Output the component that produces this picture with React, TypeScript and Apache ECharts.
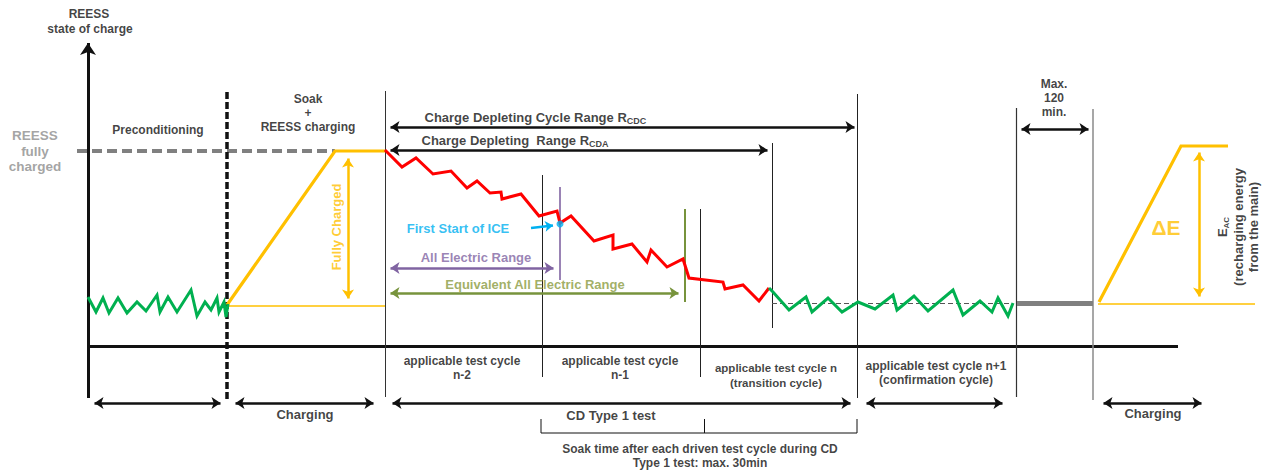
import React, { useEffect, useRef } from "react";
import * as echarts from "echarts";

type P = [number, number];

// ---------------- DATA (diagram coordinates: x = time position, y = SOC position, 0 at top) -------------
const preconditioningSoc: P[] = [
  [88, 297], [96, 312], [103, 298], [109, 313], [118, 298], [127, 313], [137, 302], [146, 311],
  [157, 295], [160, 312], [168, 297], [177, 312], [191, 290], [197, 316], [205, 302], [211, 310],
  [217, 298], [219, 312], [224, 302], [226, 317], [228, 304],
];
const chargeDepletingSoc: P[] = [
  [385, 150], [402, 167], [416, 158], [433, 174], [451, 171], [467, 188], [477, 181], [490, 193],
  [501, 192], [502, 199], [521, 194], [539, 216], [557, 211], [560, 223], [571, 216], [594, 241],
  [613, 235], [613, 249], [632, 244], [647, 262], [651, 250], [667, 267], [683, 259], [689, 278],
  [723, 282], [725, 289], [743, 285], [759, 301], [769, 288],
];
const chargeSustainingSoc: P[] = [
  [769, 288], [773, 292], [789, 310], [806, 297], [812, 312], [828, 298], [842, 312], [858, 302],
  [875, 309], [893, 295], [897, 310], [914, 296], [928, 311], [953, 290], [963, 315], [980, 301],
  [992, 312], [998, 298], [1008, 316], [1013, 303],
];
const soakChargingSoc: P[] = [[227, 305], [335, 151], [385, 151]];
const rechargeSoc: P[] = [[1099, 302], [1181, 146], [1228, 146]];
const firstIceStart: P = [560, 224];

const cycleLabels = [
  "applicable test cycle\nn-2",
  "applicable test cycle\nn-1",
  "applicable test cycle n\n(transition cycle)",
  "applicable test cycle n+1\n(confirmation cycle)",
];
const phaseLabels = ["Charging", "CD Type 1 test", "Charging"];

// ---------------- STYLE ----------------
const FONT = "Arial, 'Liberation Sans', Helvetica, sans-serif";
const BLACK = "#111111";
const YELLOW = "#FFC000";
const RED = "#FF0000";
const GREEN = "#00B050";
const GRAY = "#808080";
const PURPLE = "#8064A2";
const OLIVE = "#77933C";
const OLIVE_TEXT = "#8A9A3E";
const BLUE = "#00B0F0";

function seg(coords: P[], color: string, width: number, opts: any = {}) {
  return {
    type: "lines",
    coordinateSystem: "cartesian2d",
    silent: true,
    z: opts.z ?? 2,
    polyline: coords.length > 2,
    symbol: opts.symbol ?? ["none", "none"],
    symbolSize: opts.symbolSize ?? 9,
    lineStyle: { color, width, opacity: 1, type: opts.dash ?? "solid", curveness: 0 },
    data: [{ coords }],
  };
}

function arrow(a: P, b: P, color: string, width: number, both = true, size = 9) {
  const dx = b[0] - a[0];
  const dy = b[1] - a[1];
  const len = Math.hypot(dx, dy);
  const ux = dx / len;
  const uy = dy / len;
  const o = size / 2;
  const a2: P = both ? [a[0] + ux * o, a[1] + uy * o] : a;
  const b2: P = [b[0] - ux * o, b[1] - uy * o];
  return seg([a2, b2], color, width, { symbol: [both ? "arrow" : "none", "arrow"], symbolSize: size, z: 3 });
}

function lineSeries(data: P[], color: string, width: number) {
  return {
    type: "line",
    data,
    showSymbol: false,
    symbol: "none",
    silent: true,
    z: 4,
    lineStyle: { color, width, join: "miter" },
  };
}

function lbl(x: number, y: number, text: string, style: any = {}) {
  return {
    value: [x, y],
    label: {
      show: true,
      formatter: text,
      position: style.position ?? "inside",
      distance: 0,
      fontFamily: FONT,
      fontWeight: "bold",
      fontSize: style.fontSize ?? 12,
      color: style.color ?? BLACK,
      lineHeight: style.lineHeight ?? 14,
      align: style.align ?? "center",
      verticalAlign: "middle",
      rotate: style.rotate ?? 0,
      rich: style.rich,
    },
  };
}

const subRich = (size: number) => ({
  m: { fontFamily: FONT, fontWeight: "bold", fontSize: size, color: BLACK, lineHeight: 17, verticalAlign: "middle" },
  s: { fontFamily: FONT, fontWeight: "bold", fontSize: 9, color: BLACK, lineHeight: 17, verticalAlign: "bottom" },
});

export default function App() {
  const ref = useRef<HTMLDivElement>(null);

  useEffect(() => {
    if (!ref.current) return;
    const chart = echarts.init(ref.current, undefined, { renderer: "svg" });

    const series: any[] = [
      // axes
      seg([[88, 398], [88, 43]], BLACK, 3, { symbol: ["none", "arrow"], symbolSize: 12 }),
      seg([[87, 346], [1178, 346]], BLACK, 3),
      // full charge reference
      seg([[77, 151], [335, 151]], GRAY, 4, { dash: [10, 5] }),
      // preconditioning end
      seg([[227, 92], [227, 400]], BLACK, 3.5, { dash: [7, 3] }),
      // phase boundaries
      seg([[385, 91], [385, 397]], "#333333", 1),
      seg([[542, 175], [542, 377]], "#222222", 1),
      seg([[700, 209], [700, 377]], "#222222", 1),
      seg([[772, 143], [772, 328]], "#222222", 1),
      seg([[857, 94], [857, 398]], "#222222", 1),
      seg([[1016, 108], [1016, 397]], "#333333", 1.2),
      seg([[1093, 109], [1093, 400]], "#8a8a8a", 1.5),
      seg([[560, 187], [560, 280]], PURPLE, 1.6),
      seg([[685, 209], [685, 302]], OLIVE, 2),
      // thin yellow baselines
      seg([[227, 305.5], [385, 305.5]], YELLOW, 1.5),
      seg([[1098, 303.5], [1255, 303.5]], YELLOW, 1.5),
      // charge sustaining reference & soak
      seg([[772, 303], [1013, 303]], "#555555", 1, { dash: [5, 3] }),
      seg([[1017, 303], [1093, 303]], GRAY, 5),
      // range arrows
      arrow([386, 127], [859, 127], BLACK, 2.5),
      arrow([386, 150], [772, 150], BLACK, 2.5),
      arrow([1017, 129], [1093, 129], BLACK, 2.5),
      arrow([386, 268], [558, 268], PURPLE, 2.5),
      arrow([386, 293], [683, 293], OLIVE, 2.5),
      arrow([348, 154], [348, 303], YELLOW, 2.5),
      arrow([1199, 148], [1199, 301], YELLOW, 2.5),
      arrow([531, 228], [557, 225], BLUE, 2.5, false, 8),
      // bottom phase arrows
      arrow([90, 403], [225, 403], BLACK, 2.5),
      arrow([231, 403], [378, 403], BLACK, 2.5),
      arrow([388, 403], [855, 403], BLACK, 2.5),
      arrow([862, 403], [1007, 403], BLACK, 2.5),
      arrow([1099, 403], [1206, 403], BLACK, 2.5),
      // soak bracket
      seg([[541, 419], [541, 433], [857, 433], [857, 419]], BLACK, 1),
      seg([[704, 419], [704, 433]], BLACK, 1),
      // SOC profiles
      lineSeries(soakChargingSoc, YELLOW, 3.2),
      lineSeries(rechargeSoc, YELLOW, 3.2),
      lineSeries(preconditioningSoc, GREEN, 3),
      lineSeries(chargeDepletingSoc, RED, 3),
      lineSeries(chargeSustainingSoc, GREEN, 3),
      {
        type: "scatter",
        silent: true,
        z: 6,
        symbolSize: 7,
        itemStyle: { color: BLUE },
        data: [firstIceStart],
      },
      {
        type: "scatter",
        silent: true,
        z: 7,
        symbolSize: 1,
        itemStyle: { color: "rgba(0,0,0,0)" },
        data: [
          lbl(89, 14, "REESS"),
          lbl(90, 29, "state of charge"),
          lbl(35, 151, "REESS\nfully\ncharged", { fontSize: 13.5, color: "#8c8c8c", lineHeight: 15.5 }),
          lbl(158, 130, "Preconditioning"),
          lbl(308, 113, "Soak\n+\nREESS charging"),
          lbl(424, 117, "{m|Charge Depleting Cycle Range R}{s|CDC}", { position: "right", align: "left", fontSize: 13, rich: subRich(13) }),
          lbl(421, 140, "{m|Charge Depleting  Range R}{s|CDA}", { position: "right", align: "left", fontSize: 13, rich: subRich(13) }),
          lbl(1054, 98, "Max.\n120\nmin."),
          lbl(458, 228, "First Start of ICE", { fontSize: 13, color: BLUE }),
          lbl(476, 257, "All Electric Range", { fontSize: 13, color: PURPLE }),
          lbl(535, 284, "Equivalent All Electric Range", { fontSize: 13, color: OLIVE_TEXT }),
          lbl(336, 227, "Fully Charged", { fontSize: 13, color: YELLOW, rotate: 90 }),
          lbl(1166, 227, "ΔE", { fontSize: 21, color: YELLOW }),
          lbl(1238, 227, "{m|E}{s|AC}\n(recharging energy\nfrom the main)", {
            fontSize: 13, rotate: 90, lineHeight: 15.5,
            rich: {
              m: { fontFamily: FONT, fontWeight: "bold", fontSize: 13, color: BLACK, lineHeight: 15.5, verticalAlign: "middle" },
              s: { fontFamily: FONT, fontWeight: "bold", fontSize: 8, color: BLACK, lineHeight: 15.5, verticalAlign: "bottom" },
            },
          }),
          lbl(462, 368, cycleLabels[0]),
          lbl(620, 368, cycleLabels[1]),
          lbl(776, 375, cycleLabels[2], { fontSize: 11.5, lineHeight: 15 }),
          lbl(936, 373, cycleLabels[3]),
          lbl(305, 414, phaseLabels[0], { fontSize: 13 }),
          lbl(611, 415, phaseLabels[1], { fontSize: 13 }),
          lbl(1153, 413, phaseLabels[2], { fontSize: 13 }),
          lbl(700, 456, "Soak time after each driven test cycle during CD\nType 1 test: max. 30min"),
        ],
      },
    ];

    chart.setOption({
      animation: false,
      backgroundColor: "#ffffff",
      grid: { left: 0, right: 0, top: 0, bottom: 0, containLabel: false },
      xAxis: { type: "value", min: 0, max: 1264, show: false },
      yAxis: { type: "value", min: 0, max: 471, inverse: true, show: false },
      series,
    });

    return () => chart.dispose();
  }, []);

  return (
    <div
      ref={ref}
      style={{ position: "absolute", left: 0, top: 0, width: 1264, height: 471, background: "#fff" }}
    />
  );
}
